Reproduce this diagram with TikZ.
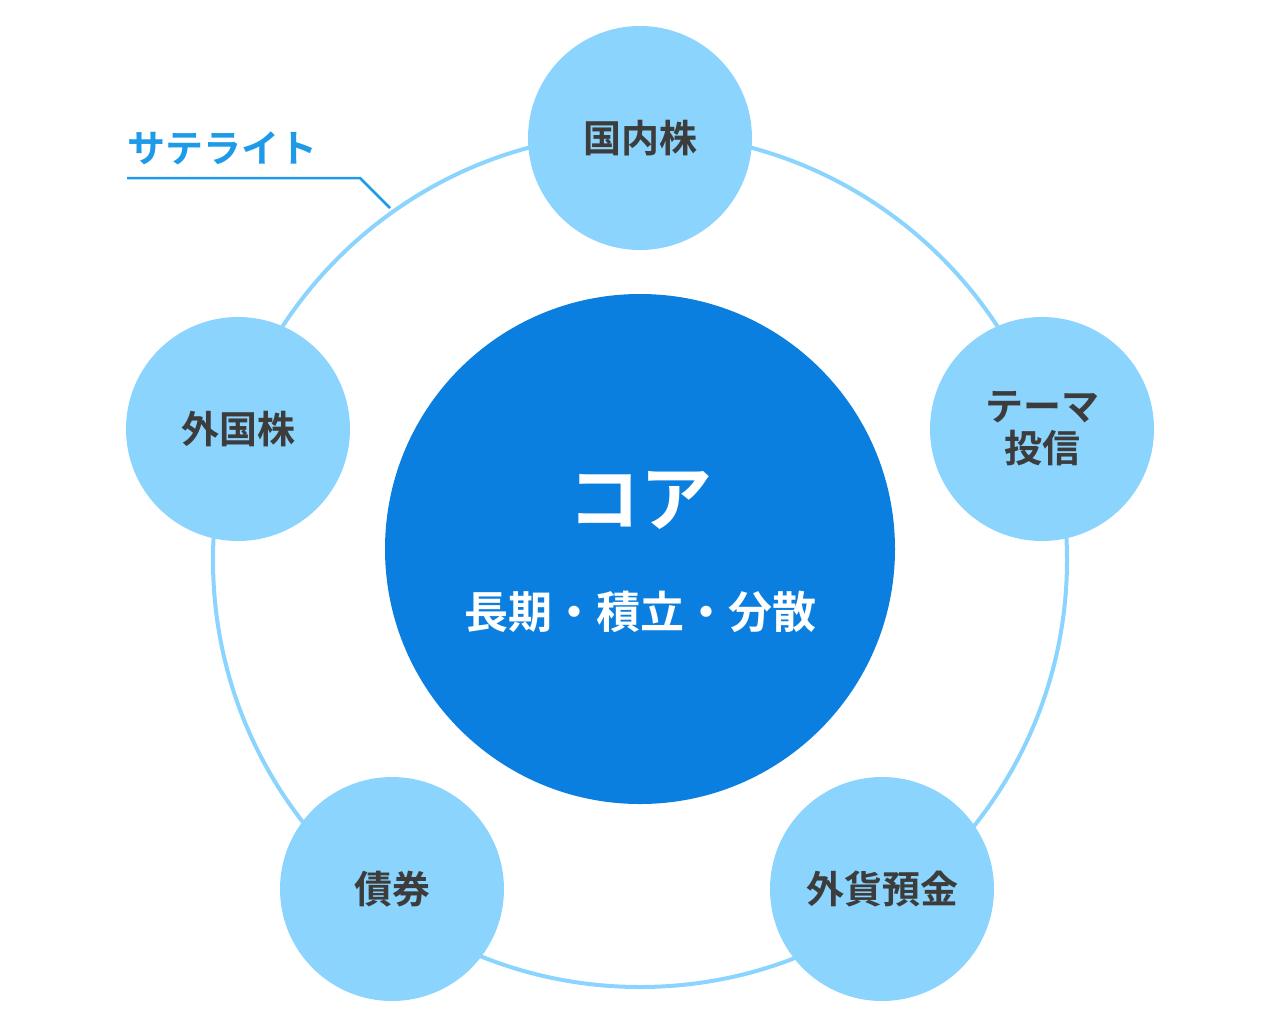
\documentclass[tikz,border=0pt]{standalone}
\usepackage{fontspec}
\newfontfamily\jp{Noto Sans CJK JP}[BoldFont={Noto Sans CJK JP Bold}]
\definecolor{satblue}{HTML}{8AD4FE}
\definecolor{coreblue}{HTML}{0A7FDF}
\definecolor{labelblue}{HTML}{1E9BE8}
\definecolor{txtgrey}{HTML}{3C3C3C}
\tikzset{
	sat/.style={circle,fill=satblue,minimum size=224pt,inner sep=0pt,align=center,
		font=\jp\bfseries\fontsize{38}{46}\selectfont,text=txtgrey},
	core/.style={circle,fill=coreblue,minimum size=510pt,inner sep=0pt}
}
\begin{document}
\begin{tikzpicture}[x=1pt,y=-1pt]
	\useasboundingbox (0,0) rectangle (1280,1026);
	\coordinate (c) at (640,560);
	\draw[satblue,line width=4pt] (c) circle[radius=427];
	
	\node[core] (core) at (640,549){};
	\node[text=white,font=\jp\bfseries\fontsize{72}{80}\selectfont] (coretitle) at (640,500){コア};
	\node[text=white,font=\jp\bfseries\fontsize{44}{50}\selectfont] (coresub) at (640,612){長期・積立・分散};
	
	\node[sat] (dom) at (640,138){国内株};
	\node[sat] (frn) at (238,429){外国株};
	\node[sat] (thm) at (1042,429){テーマ\\[-4pt]投信};
	\node[sat] (bond) at (392,889){債券};
	\node[sat] (fx) at (882,889){外貨預金};
	
	\node[text=labelblue,font=\jp\bfseries\fontsize{38}{44}\selectfont,anchor=south west] (satlabel) at (124,168){サテライト};
	\coordinate (l1) at (127,178);
	\coordinate (l2) at (360,178);
	\coordinate (l3) at (390,208);
	\draw[labelblue,line width=2.5pt] (l1) -- (l2) -- (l3);
\end{tikzpicture}
\end{document}
